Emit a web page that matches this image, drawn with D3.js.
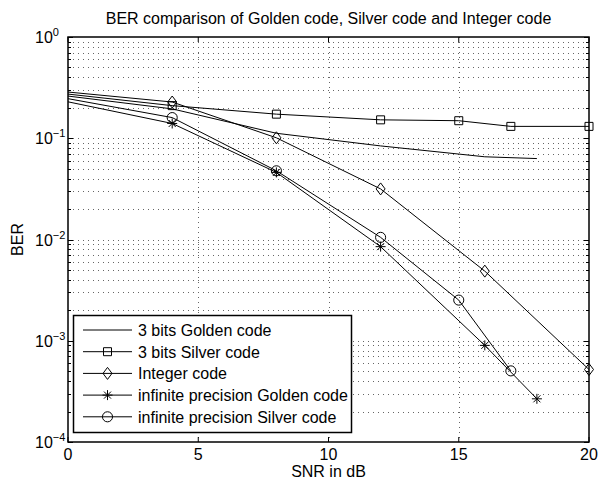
<!DOCTYPE html>
<html>
<head>
<meta charset="utf-8">
<script src="https://cdn.jsdelivr.net/npm/d3@7"></script>
<style>
  body { margin: 0; background: #fff; }
  text { font-family: "Liberation Sans", Arial, sans-serif; fill: #000; }
</style>
</head>
<body>
<div id="chart"></div>
<script>
//Data (SNR in dB, BER)
var snr_golden3 = [0, 4, 8, 12, 16, 18];
var ber_golden3 = [0.261, 0.195, 0.112, 0.084, 0.0656, 0.063];

var snr_silver3 = [0, 4, 8, 12, 15, 17, 20];
var ber_silver3 = [0.273, 0.21, 0.173, 0.152, 0.149, 0.131, 0.131];

var snr_integer = [0, 4, 8, 12, 16, 20];
var ber_integer = [0.286, 0.228, 0.101, 0.0316, 0.00487, 0.00052];

var snr_infGolden = [0, 4, 8, 12, 16, 18];
var ber_infGolden = [0.229, 0.14, 0.046, 0.0085, 0.0009, 0.000267];

var snr_infSilver = [0, 4, 8, 12, 15, 17];
var ber_infSilver = [0.246, 0.16, 0.0477, 0.0105, 0.00252, 0.000504];

var series_names = ["3 bits Golden code", "3 bits Silver code", "Integer code",
    "infinite precision Golden code", "infinite precision Silver code"];
var series_markers = ["none", "square", "diamond", "star", "circle"];

var x_ticks = [0, 5, 10, 15, 20];
var y_exponents = [0, -1, -2, -3, -4];

var title_text = "BER comparison of Golden code, Silver code and Integer code";
var x_label = "SNR in dB";
var y_label = "BER";

//Sizes of the picture (plot box edges)
var width = 599, height = 481;
var pl = 68, pr = 589, pt = 37, pb = 442;
var fs = 16;

var svg = d3.select("#chart").append("svg")
    .attr("width", width)
    .attr("height", height);

var x = d3.scaleLinear().domain([0, 20]).range([pl, pr]);
var y = d3.scaleLog().domain([1e-4, 1]).range([pb, pt]);

//Grid: dotted lines at major x ticks and every log tick
var grid = svg.append("g")
    .attr("stroke", "#666")
    .attr("stroke-width", 1)
    .attr("stroke-dasharray", "1,4");

x_ticks.slice(1, -1).forEach(function(t){
    grid.append("line")
        .attr("x1", Math.round(x(t)) + 0.5).attr("x2", Math.round(x(t)) + 0.5)
        .attr("y1", pt).attr("y2", pb);
});

var y_all = y.ticks().filter(function(v){ return v > 1e-4 && v < 1; });
y_all.forEach(function(v){
    grid.append("line")
        .attr("x1", pl).attr("x2", pr)
        .attr("y1", Math.round(y(v)) + 0.5).attr("y2", Math.round(y(v)) + 0.5);
});

//Axis box and ticks
var axis = svg.append("g").attr("stroke", "#000").attr("fill", "none");

axis.append("rect")
    .attr("x", pl).attr("y", pt)
    .attr("width", pr - pl).attr("height", pb - pt)
    .attr("stroke-width", 1.5);

x_ticks.forEach(function(t){
    axis.append("line").attr("x1", x(t)).attr("x2", x(t))
        .attr("y1", pb).attr("y2", pb - 5);
    axis.append("line").attr("x1", x(t)).attr("x2", x(t))
        .attr("y1", pt).attr("y2", pt + 5);
});

y.ticks().forEach(function(v){
    var major = Math.abs(Math.log10(v) - Math.round(Math.log10(v))) < 1e-9;
    var len = major ? 5 : 3;
    var yy = Math.round(y(v)) + 0.5;
    axis.append("line").attr("x1", pl).attr("x2", pl + len)
        .attr("y1", yy).attr("y2", yy);
    axis.append("line").attr("x1", pr).attr("x2", pr - len)
        .attr("y1", yy).attr("y2", yy);
});

//Tick labels
x_ticks.forEach(function(t){
    svg.append("text")
        .attr("x", x(t))
        .attr("y", 460)
        .attr("text-anchor", "middle")
        .attr("font-size", fs)
        .text(t);
});

y_exponents.forEach(function(e){
    var yy = y(Math.pow(10, e));
    var lbl = svg.append("text")
        .attr("x", 35)
        .attr("y", yy + 6)
        .attr("font-size", fs);
    lbl.append("tspan").text("10");
    lbl.append("tspan")
        .attr("font-size", 11)
        .attr("dy", -7)
        .text(e == 0 ? "0" : "\u2212" + Math.abs(e));
});

//Title and axis labels
svg.append("text")
    .attr("x", (pl + pr) / 2)
    .attr("y", 24)
    .attr("text-anchor", "middle")
    .attr("font-size", fs)
    .text(title_text);

svg.append("text")
    .attr("x", (pl + pr) / 2)
    .attr("y", 477)
    .attr("text-anchor", "middle")
    .attr("font-size", fs)
    .text(x_label);

svg.append("text")
    .attr("transform", "translate(23," + ((pt + pb) / 2) + ") rotate(-90)")
    .attr("text-anchor", "middle")
    .attr("font-size", fs)
    .text(y_label);

//Marker shapes, drawn around 0,0
function markerPath(kind){
    if (kind == "square"){
        return d3.symbol(d3.symbolSquare, 64)();
    }
    if (kind == "circle"){
        return d3.symbol(d3.symbolCircle, 80)();
    }
    if (kind == "diamond"){
        return "M0,-6L4.5,0L0,6L-4.5,0Z";
    }
    if (kind == "star"){
        return "M0,-5V5M-5,0H5M-3.5,-3.5L3.5,3.5M-3.5,3.5L3.5,-3.5";
    }
    return null;
}

function drawMarker(g, kind, cx, cy){
    var p = markerPath(kind);
    if (!p) return;
    g.append("path")
        .attr("d", p)
        .attr("transform", "translate(" + cx + "," + cy + ")")
        .attr("fill", "none")
        .attr("stroke", "#000")
        .attr("stroke-width", 1);
}

//Plot the series
var all_snr = [snr_golden3, snr_silver3, snr_integer, snr_infGolden, snr_infSilver];
var all_ber = [ber_golden3, ber_silver3, ber_integer, ber_infGolden, ber_infSilver];

var line = d3.line()
    .x(function(d){ return x(d[0]); })
    .y(function(d){ return y(d[1]); });

var plot = svg.append("g");
all_snr.forEach(function(snr, i){
    var pts = snr.map(function(s, j){ return [s, all_ber[i][j]]; });
    plot.append("path")
        .attr("d", line(pts))
        .attr("fill", "none")
        .attr("stroke", "#000")
        .attr("stroke-width", 1);
    //the curves come in from the left edge, no marker shown at 0 dB
    pts.forEach(function(p){
        if (p[0] > 0) drawMarker(plot, series_markers[i], x(p[0]), y(p[1]));
    });
});

//Legend
var lg = svg.append("g");
lg.append("rect")
    .attr("x", 73.5).attr("y", 315.5)
    .attr("width", 278).attr("height", 117)
    .attr("fill", "#fff")
    .attr("stroke", "#000")
    .attr("stroke-width", 1.5);

series_names.forEach(function(name, i){
    var ly = 330 + i * 21.7;
    lg.append("line")
        .attr("x1", 83).attr("x2", 132)
        .attr("y1", ly).attr("y2", ly)
        .attr("stroke", "#000");
    drawMarker(lg, series_markers[i], 107.5, ly);
    lg.append("text")
        .attr("x", 138)
        .attr("y", ly + 6)
        .attr("font-size", fs)
        .text(name);
});
</script>
</body>
</html>
